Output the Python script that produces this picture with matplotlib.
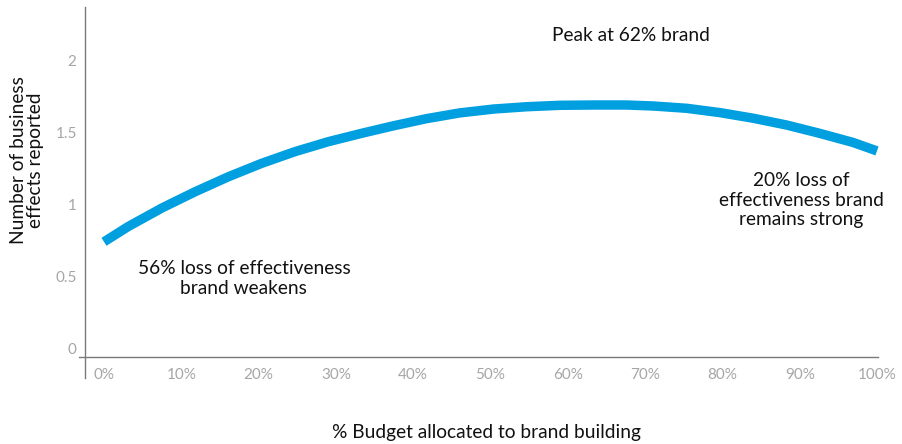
import matplotlib.pyplot as plt

plt.rcParams['font.family'] = ['Lato', 'DejaVu Sans']

# share of budget spent on brand building vs. business effects reported
budget_pct = [0, 3.1, 7.5, 11.8, 16.1, 20.4, 24.7, 29.0, 33.3, 37.4, 41.7,
              46.0, 50.4, 54.7, 59.0, 63.3, 67.6, 71.1, 75.4, 79.7, 84.0,
              88.3, 92.6, 96.9, 100]
effects = [0.80, 0.905, 1.035, 1.148, 1.252, 1.345, 1.426, 1.495, 1.553,
           1.605, 1.655, 1.695, 1.722, 1.738, 1.748, 1.750, 1.750, 1.743,
           1.727, 1.697, 1.658, 1.611, 1.553, 1.490, 1.431]

x_ticks = [0, 10, 20, 30, 40, 50, 60, 70, 80, 90, 100]
x_labels = ['%d%%' % v for v in x_ticks]
y_ticks = [0, 0.5, 1, 1.5, 2]
y_labels = ['0', '0.5', '1', '1.5', '2']

fig = plt.figure(figsize=(9.03, 4.44), dpi=100)
ax = fig.add_axes([79 / 903, 66 / 444, 799 / 903, 371 / 444])

ax.plot(budget_pct, effects, color='#009FE0', lw=6.8, solid_capstyle='butt',
        solid_joinstyle='round', clip_on=False)

ax.set_xlim(-3.234, 100.13)
ax.set_ylim(-0.1458, 2.4306)

for side in ['top', 'right']:
    ax.spines[side].set_visible(False)
ax.spines['left'].set_position(('data', -2.458))
ax.spines['bottom'].set_position(('data', 0))
for side in ['left', 'bottom']:
    ax.spines[side].set_color('#7a7a7a')
    ax.spines[side].set_linewidth(1.0)

ax.set_xticks(x_ticks)
ax.set_xticklabels(x_labels)
ax.set_yticks(y_ticks)
ax.set_yticklabels(y_labels)
ax.tick_params(axis='both', length=0, labelsize=11, labelcolor='#a6a6a6')
ax.tick_params(axis='x', pad=8)
ax.tick_params(axis='y', pad=6)
for lab in ax.get_yticklabels():
    lab.set_va('bottom')

fig.text(27 / 903, 1 - 160 / 444, 'Number of business\neffects reported',
         rotation=90, ha='center', va='center', fontsize=13.8,
         color='#111111', linespacing=1.05)
fig.text(487 / 903, 1 - 432 / 444, '% Budget allocated to brand building',
         ha='center', va='center', fontsize=13.8, color='#111111')

ax.text(68.2, 2.236, 'Peak at 62% brand', ha='center', va='center',
        fontsize=13.8, color='#111111')
ax.text(18.1, 0.545, '56% loss of effectiveness\nbrand weakens', ha='center',
        va='center', fontsize=13.8, color='#111111', linespacing=1.2)
ax.text(90.2, 1.09, '20% loss of\neffectiveness brand\nremains strong',
        ha='center', va='center', fontsize=13.8, color='#111111',
        linespacing=1.2)

fig.savefig('out.png', dpi=100)
